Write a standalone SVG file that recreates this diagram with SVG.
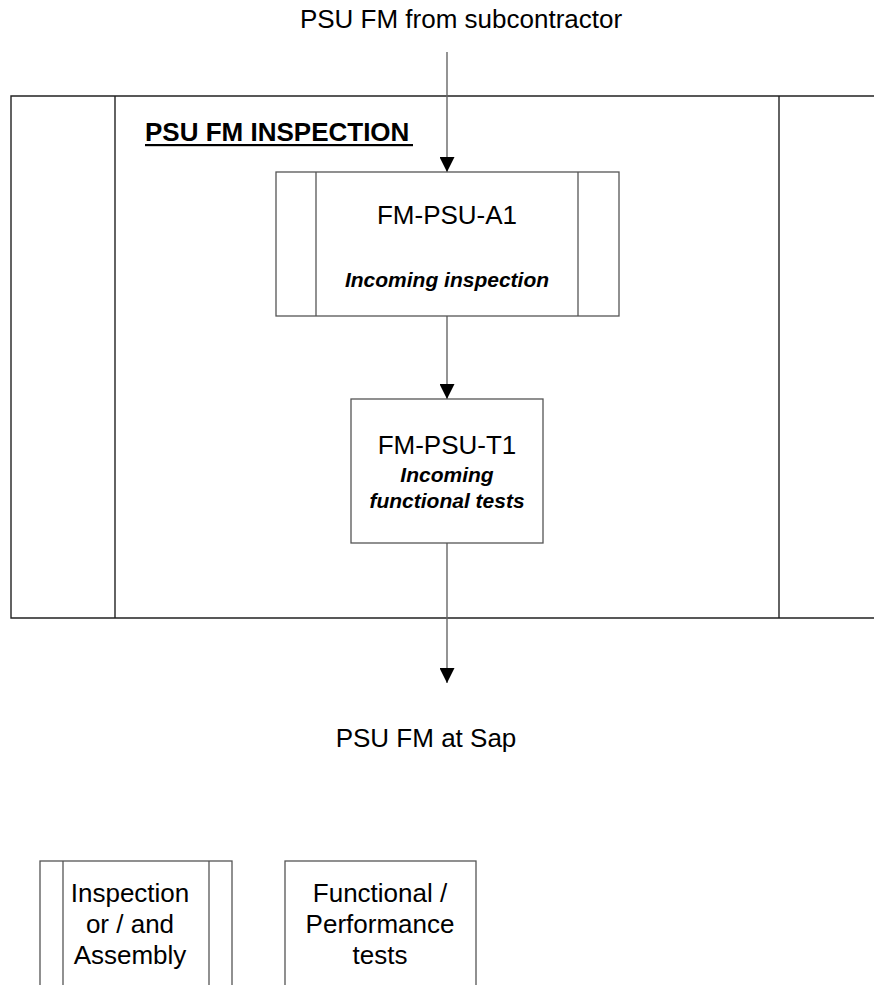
<svg xmlns="http://www.w3.org/2000/svg" width="874" height="985" viewBox="0 0 874 985">
  <style>
    .frame { fill: none; stroke: #222; stroke-width: 1.4; }
    .box { fill: #fff; stroke: #555; stroke-width: 1.3; }
    .conn { fill: none; stroke: #666; stroke-width: 1.4; }
    .t { font-family: "Liberation Sans", Arial, sans-serif; font-size: 26px; fill: #000; text-anchor: middle; }
    .bi { font-weight: bold; font-style: italic; font-size: 21px; }
    .title { font-family: "Liberation Sans", Arial, sans-serif; font-size: 26px; font-weight: bold; fill: #000; }
  </style>
  <defs>
    <marker id="arrow" viewBox="0 0 15 15" refX="15" refY="7.5" markerWidth="15" markerHeight="15" markerUnits="userSpaceOnUse" orient="auto">
      <path d="M0,0 L15,7.5 L0,15 Z" fill="#000"/>
    </marker>
  </defs>
  <rect width="874" height="985" fill="#fff"/>

  <!-- swimlane frame -->
  <g id="lane">
    <path class="frame" d="M880,96 H11 V618 H880"/>
    <line class="frame" x1="115" y1="96" x2="115" y2="618"/>
    <line class="frame" x1="779" y1="96" x2="779" y2="618"/>
    <text class="title" x="145" y="141">PSU FM INSPECTION</text>
    <rect x="145" y="144" width="268" height="2.2" fill="#000"/>
  </g>

  <!-- connectors -->
  <g id="connectors">
    <line class="conn" x1="447" y1="52" x2="447" y2="172" marker-end="url(#arrow)"/>
    <line class="conn" x1="447" y1="316" x2="447" y2="399" marker-end="url(#arrow)"/>
    <line class="conn" x1="447" y1="543" x2="447" y2="683" marker-end="url(#arrow)"/>
  </g>

  <!-- inputs / outputs -->
  <g id="input">
    <text class="t" x="461" y="28">PSU FM from subcontractor</text>
  </g>
  <g id="output">
    <text class="t" x="426" y="747">PSU FM at Sap</text>
  </g>

  <!-- inspection step -->
  <g id="FM-PSU-A1">
    <rect class="box" x="276" y="172" width="343" height="144"/>
    <line class="box" x1="316" y1="172" x2="316" y2="316"/>
    <line class="box" x1="578" y1="172" x2="578" y2="316"/>
    <text class="t" x="447" y="224">FM-PSU-A1</text>
    <text class="t bi" x="447" y="287">Incoming inspection</text>
  </g>

  <!-- test step -->
  <g id="FM-PSU-T1">
    <rect class="box" x="351" y="399" width="192" height="144"/>
    <text class="t" x="447" y="454">FM-PSU-T1</text>
    <text class="t bi" x="447" y="482">Incoming</text>
    <text class="t bi" x="447" y="508">functional tests</text>
  </g>

  <!-- legend -->
  <g id="legend-inspection">
    <rect class="box" x="40" y="861" width="192" height="150"/>
    <line class="box" x1="63" y1="861" x2="63" y2="1011"/>
    <line class="box" x1="209" y1="861" x2="209" y2="1011"/>
    <text class="t" x="130" y="902">Inspection</text>
    <text class="t" x="130" y="933">or / and</text>
    <text class="t" x="130" y="964">Assembly</text>
  </g>
  <g id="legend-tests">
    <rect class="box" x="285" y="861" width="191" height="150"/>
    <text class="t" x="380" y="902">Functional /</text>
    <text class="t" x="380" y="933">Performance</text>
    <text class="t" x="380" y="964">tests</text>
  </g>
</svg>
